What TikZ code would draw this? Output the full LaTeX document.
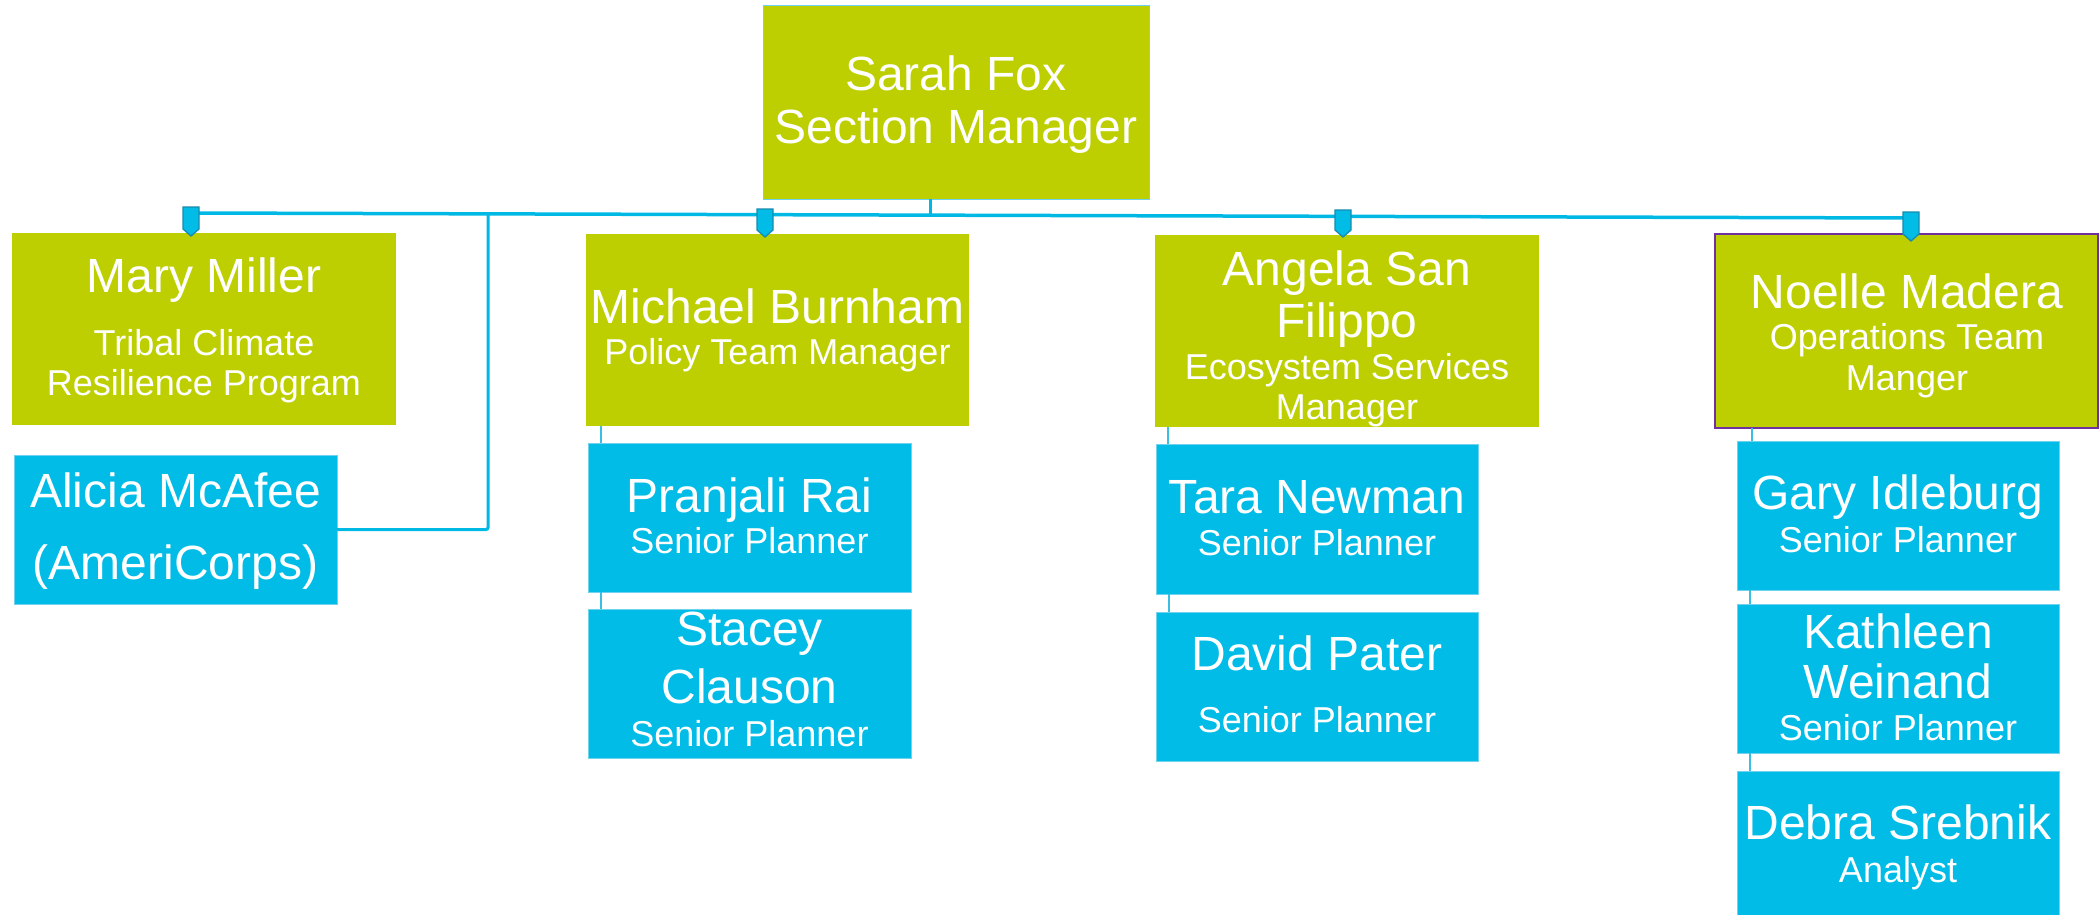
\documentclass[tikz,border=0pt]{standalone}
\usepackage{fontspec}
\setmainfont{Liberation Sans}
\usetikzlibrary{calc}
\definecolor{lime}{HTML}{BDCF00}
\definecolor{sky}{HTML}{00BCE7}
\definecolor{skyedge}{HTML}{6FD3EF}
\definecolor{busc}{HTML}{00B8E4}
\definecolor{thinc}{HTML}{3BBFE0}
\definecolor{mkedge}{HTML}{168CAE}
\definecolor{purp}{HTML}{7030A0}
\tikzset{
  box/.style={rectangle, anchor=north west, inner sep=0pt, outer sep=0pt},
  gbox/.style={box, fill=lime},
  bbox/.style={box, fill=sky, draw=skyedge, line width=0.8pt},
  txt/.style={text=white, inner sep=0pt, anchor=base},
  big/.style={txt, font=\fontsize{48}{56}\selectfont},
  sml/.style={txt, font=\fontsize{36}{42}\selectfont},
  bus/.style={draw=busc, line width=3.5pt},
  thinline/.style={draw=thinc, line width=1.6pt},
  mk/.style={fill=sky, draw=mkedge, line width=1.3pt, line join=miter},
}
\newcommand\orgmarker[3]{\filldraw[mk] (#1-8,#2) -- (#1+8,#2) -- (#1+8,#3-7) -- (#1,#3) -- (#1-8,#3-7) -- cycle;}
\begin{document}
\begin{tikzpicture}[x=1pt,y=-1pt]
\useasboundingbox (0,0) rectangle (2099,915);
\fill[white] (0,0) rectangle (2099,915);

% ---- boxes ----
\node[gbox, draw=skyedge, line width=0.8pt, minimum width=386pt, minimum height=194pt] (sarah) at (763,5) {};
\node[gbox, minimum width=384pt, minimum height=192pt] (mary) at (12,233) {};
\node[bbox, minimum width=323pt, minimum height=149pt] (ali) at (14,455) {};
\node[gbox, minimum width=383pt, minimum height=192pt] (mich) at (586,234) {};
\node[bbox, minimum width=323pt, minimum height=149pt] (pran) at (588,443) {};
\node[bbox, minimum width=323pt, minimum height=149pt] (stac) at (588,609) {};
\node[gbox, minimum width=384pt, minimum height=192pt] (ang) at (1155,235) {};
\node[bbox, minimum width=322pt, minimum height=150pt] (tara) at (1156,444) {};
\node[bbox, minimum width=322pt, minimum height=149pt] (dav) at (1156,612) {};
\node[gbox, draw=purp, line width=1.4pt, minimum width=383pt, minimum height=194pt] (noel) at (1715,234) {};
\node[bbox, minimum width=322pt, minimum height=149pt] (gary) at (1737,441) {};
\node[bbox, minimum width=322pt, minimum height=149pt] (kath) at (1737,604) {};
\node[bbox, minimum width=322pt, minimum height=146pt] (deb) at (1737,771) {};

% ---- bus and connectors ----
\coordinate (busL) at (191,213);
\coordinate (busR) at (1911,218);
\draw[bus] (busL) -- (busR);
\coordinate (stemTop) at (930,199);
\coordinate (stemBot) at (930,215.4);
\draw[draw=busc, line width=3pt] (stemTop) -- (stemBot);
\coordinate (aliBend) at (488,529.5);
\coordinate (aliTop) at (488,213.5);
\draw[bus, line width=3pt, rounded corners=2pt] (ali.east) -- (aliBend) -- (aliTop);

\coordinate (m1) at (601,443);
\draw[thinline] (m1 |- mich.south) -- (m1);
\coordinate (m2) at (601,609);
\draw[thinline] (m2 |- pran.south) -- (m2);
\coordinate (a1) at (1168,444);
\draw[thinline] (a1 |- ang.south) -- (a1);
\coordinate (a2) at (1169,612);
\draw[thinline] (a2 |- tara.south) -- (a2);
\coordinate (n1) at (1752,441);
\draw[thinline] (n1 |- noel.south) -- (n1);
\coordinate (n2) at (1750,604);
\draw[thinline] (n2 |- gary.south) -- (n2);
\coordinate (n3) at (1750,771);
\draw[thinline] (n3 |- kath.south) -- (n3);

% ---- markers ----
\orgmarker{191}{207}{236}
\orgmarker{765}{209}{237}
\orgmarker{1343}{210}{237}
\orgmarker{1911}{212}{241}

% ---- texts ----
\node[big] (t-sarah1) at (956,91) {Sarah Fox};
\node[big] (t-sarah2) at (956,143) {Section Manager};

\node[big] (t-mary1) at (204,292) {Mary Miller};
\node[sml] (t-mary2) at (204,355) {Tribal Climate};
\node[sml] (t-mary3) at (204,395) {Resilience Program};

\node[big] (t-ali1) at (175.5,507) {Alicia McAfee};
\node[big] (t-ali2) at (175.5,579) {(AmeriCorps)};

\node[big] (t-mich1) at (777.5,323) {Michael Burnham};
\node[sml] (t-mich2) at (777.5,364) {Policy Team Manager};

\node[big] (t-pran1) at (749.5,512) {Pranjali Rai};
\node[sml] (t-pran2) at (749.5,553) {Senior Planner};

\node[big] (t-stac1) at (749.5,645) {Stacey};
\node[big] (t-stac2) at (749.5,703) {Clauson};
\node[sml] (t-stac3) at (749.5,746) {Senior Planner};

\node[big] (t-ang1) at (1347,285) {Angela San};
\node[big] (t-ang2) at (1347,337) {Filippo};
\node[sml] (t-ang3) at (1347,379) {Ecosystem Services};
\node[sml] (t-ang4) at (1347,419) {Manager};

\node[big] (t-tara1) at (1317,513) {Tara Newman};
\node[sml] (t-tara2) at (1317,555) {Senior Planner};

\node[big] (t-dav1) at (1317,670) {David Pater};
\node[sml] (t-dav2) at (1317,732) {Senior Planner};

\node[big] (t-noel1) at (1907,308) {Noelle Madera};
\node[sml] (t-noel2) at (1907,349) {Operations Team};
\node[sml] (t-noel3) at (1907,390) {Manger};

\node[big] (t-gary1) at (1898,509) {Gary Idleburg};
\node[sml] (t-gary2) at (1898,552) {Senior Planner};

\node[big] (t-kath1) at (1898,648) {Kathleen};
\node[big] (t-kath2) at (1898,698) {Weinand};
\node[sml] (t-kath3) at (1898,740) {Senior Planner};

\node[big] (t-deb1) at (1898,839) {Debra Srebnik};
\node[sml] (t-deb2) at (1898,882) {Analyst};
\end{tikzpicture}
\end{document}
